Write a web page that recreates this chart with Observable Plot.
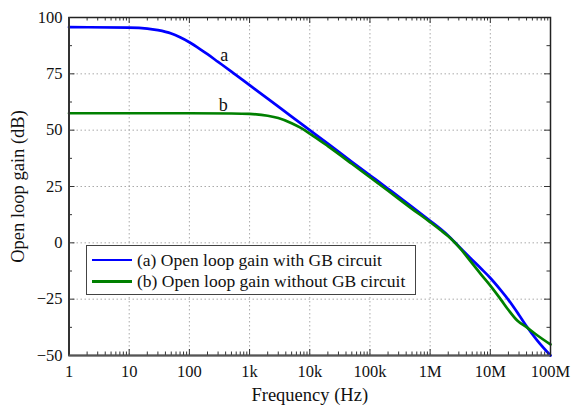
<!DOCTYPE html>
<html>
<head>
<meta charset="utf-8">
<script src="https://cdn.jsdelivr.net/npm/d3@7"></script>
<script src="https://cdn.jsdelivr.net/npm/@observablehq/plot@0.6"></script>
<style>
  html, body { margin: 0; padding: 0; background: #fff; }
  #wrap { position: relative; width: 571px; height: 405px; font-family: "Liberation Serif", "Tinos", "Times New Roman", "DejaVu Serif", serif; }
  #wrap svg, #wrap svg text { font-family: "Liberation Serif", "Tinos", "Times New Roman", "DejaVu Serif", serif !important; }
  #legend { position: absolute; left: 86px; top: 245px; width: 328px; height: 48px; border: 1.6px solid #444; background: #fff; font-size: 17.5px; color: #111; }
  .row { position: absolute; left: 5px; height: 20px; display: flex; align-items: center; white-space: nowrap; }
  .sw { display: inline-block; width: 40px; height: 2.6px; margin-right: 5px; }
</style>
</head>
<body>
<div id="wrap"></div>
<script>
// Frequencies (Hz) and gains (dB)
const freqA = [1, 10, 20, 30, 50, 70, 100, 150, 200, 300, 500, 1e3, 2e3, 5e3, 1e4, 2e4, 5e4, 1e5, 2e5, 5e5, 1e6, 1.5e6, 2e6, 3e6, 4.6e6, 7e6, 1e7, 1.5e7, 2e7, 3e7, 4e7, 6e7, 1e8];
const gainA = [95.7, 95.5, 95.1, 94.4, 92.9, 91.2, 89.0, 86.0, 83.7, 80.3, 76.0, 70.0, 64.0, 56.0, 50.0, 44.0, 36.0, 30.0, 24.0, 16.0, 9.8, 6.1, 3.2, -1.6, -6.6, -11.4, -15.6, -21.1, -25.3, -32.0, -37.0, -43.3, -50.0];
const freqB = [1, 10, 100, 500, 1e3, 2e3, 3e3, 5e3, 7e3, 1e4, 2e4, 5e4, 1e5, 2e5, 5e5, 1e6, 1.5e6, 2e6, 3e6, 4.6e6, 7e6, 1e7, 1.5e7, 2e7, 2.8e7, 4e7, 6e7, 1e8];
const gainB = [57.5, 57.5, 57.5, 57.4, 57.2, 56.4, 55.4, 53.1, 51.1, 48.5, 42.9, 35.1, 29.1, 23.1, 15.1, 9.2, 5.6, 2.9, -1.8, -7.9, -14.0, -19.0, -25.2, -29.8, -34.5, -37.4, -41.0, -45.1];

const seriesNames = ["(a) Open loop gain with GB circuit", "(b) Open loop gain without GB circuit"];
const seriesColors = ["#0000ff", "#008000"];

const xTicks = [1, 10, 100, 1e3, 1e4, 1e5, 1e6, 1e7, 1e8];
const xTickLabels = ["1", "10", "100", "1k", "10k", "100k", "1M", "10M", "100M"];
const xMinor = [2, 3, 4, 5, 6, 7, 8, 9];
const yTicks = [-50, -25, 0, 25, 50, 75, 100];
const yMinor = [-37.5, -12.5, 12.5, 37.5, 62.5, 87.5];

const curveLabels = ["a", "b"];
const curveLabelX = [378, 365];
const curveLabelY = [80.9, 58.7];

const dataA = freqA.map((f, i) => ({f, g: gainA[i]}));
const dataB = freqB.map((f, i) => ({f, g: gainB[i]}));
const minorXTicks = xTicks.slice(0, -1).flatMap(d => xMinor.map(m => d * m));
const labelData = curveLabels.map((t, i) => ({t, f: curveLabelX[i], g: curveLabelY[i]}));

const W = 571, H = 405, mL = 68.5, mR = 21, mT = 17, mB = 50;
const pw = W - mL - mR, ph = H - mT - mB;
const gridStyle = {stroke: "#aaa", strokeDasharray: "1.5,2.5", strokeWidth: 1};
const FONT = "'Liberation Serif', Tinos, 'Times New Roman', 'DejaVu Serif', serif";

const chart = Plot.plot({
  width: W, height: H,
  marginLeft: mL, marginRight: mR, marginTop: mT, marginBottom: mB,
  style: {fontFamily: FONT, fontSize: "16px", color: "#111", background: "white"},
  x: {type: "log", domain: [1, 1e8]},
  y: {domain: [-50, 100]},
  marks: [
    Plot.ruleX(xTicks.slice(1, -1), {...gridStyle}),
    Plot.ruleY(yTicks.slice(1, -1), {...gridStyle}),
    Plot.line(dataA, {x: "f", y: "g", stroke: seriesColors[0], strokeWidth: 2.7, curve: "monotone-x"}),
    Plot.line(dataB, {x: "f", y: "g", stroke: seriesColors[1], strokeWidth: 2.7, curve: "monotone-x"}),
    Plot.text(labelData, {x: "f", y: "g", text: "t", lineAnchor: "bottom", fontSize: 18, fill: "#111"}),
    // ticks (inward)
    Plot.tickX(xTicks, {x: d => d, insetTop: ph - 6, stroke: "#333"}),
    Plot.tickX(xTicks, {x: d => d, insetBottom: ph - 6, stroke: "#333"}),
    Plot.tickX(minorXTicks, {x: d => d, insetTop: ph - 3.5, stroke: "#333"}),
    Plot.tickX(minorXTicks, {x: d => d, insetBottom: ph - 3.5, stroke: "#333"}),
    Plot.tickY(yTicks, {y: d => d, insetRight: pw - 6, stroke: "#333"}),
    Plot.tickY(yTicks, {y: d => d, insetLeft: pw - 6, stroke: "#333"}),
    Plot.tickY(yMinor, {y: d => d, insetRight: pw - 3.5, stroke: "#333"}),
    Plot.tickY(yMinor, {y: d => d, insetLeft: pw - 3.5, stroke: "#333"}),
    Plot.frame({stroke: "#222", strokeWidth: 1.5}),
    Plot.ruleX([1], {stroke: "#333", strokeWidth: 2}),
    Plot.ruleY([-50], {stroke: "#555", strokeWidth: 2.2}),
    Plot.axisX({ticks: xTicks, tickFormat: (d) => xTickLabels[xTicks.indexOf(d)], tickSize: 0, tickPadding: 10, label: null, fontSize: 16.5}),
    Plot.axisY({ticks: yTicks, tickSize: 0, tickPadding: 6.5, label: null, fontSize: 16.5}),
    Plot.text(["Frequency (Hz)"], {frameAnchor: "bottom", textAnchor: "middle", text: d => d, lineAnchor: "bottom", dy: 45, fontSize: 18.5, fill: "#111"}),
    Plot.text(["Open loop gain (dB)"], {frameAnchor: "left", textAnchor: "middle", text: d => d, lineAnchor: "bottom", rotate: -90, dx: -45, fontSize: 18.5, fill: "#111"})
  ]
});

const wrap = document.getElementById("wrap");
wrap.appendChild(chart);

const legend = document.createElement("div");
legend.id = "legend";
seriesNames.forEach((name, i) => {
  const row = document.createElement("div");
  row.className = "row";
  row.style.top = (4 + i * 21.7) + "px";
  const sw = document.createElement("span");
  sw.className = "sw";
  sw.style.background = seriesColors[i];
  const tx = document.createElement("span");
  tx.textContent = name;
  row.appendChild(sw);
  row.appendChild(tx);
  legend.appendChild(row);
});
wrap.appendChild(legend);
</script>
</body>
</html>
